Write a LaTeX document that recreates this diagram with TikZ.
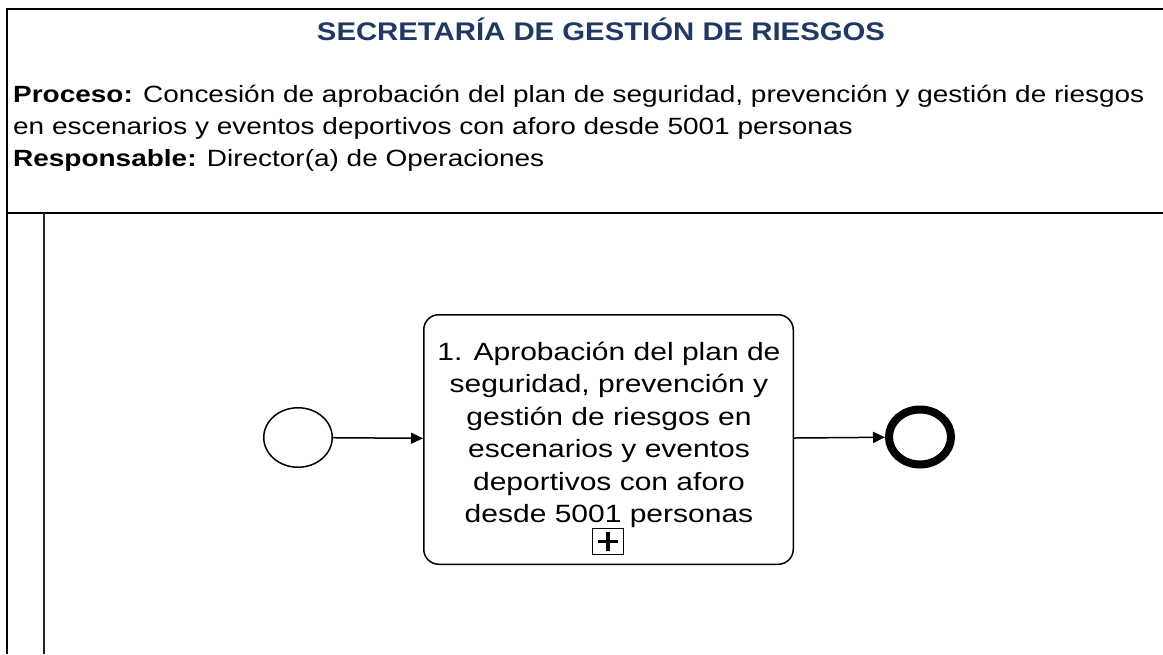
\documentclass[tikz,border=0pt]{standalone}
\usepackage{fontspec}
\setmainfont{Liberation Sans}
\newfontfamily\wfont[FakeStretch=1.2]{Liberation Sans}
\newfontfamily\hfont[FakeStretch=1.19]{Liberation Sans}
\newfontfamily\tfont[FakeStretch=1.15]{Liberation Sans}
\usetikzlibrary{shapes.geometric,arrows.meta}
\definecolor{navy}{RGB}{31,56,100}
\tikzset{
  poolline/.style={line width=2pt, black},
  lanesep/.style={line width=2.6pt, black},
  laneline/.style={line width=1.6pt, black!85},
  startev/.style={ellipse, draw, line width=1.5pt, minimum width=68.5pt, minimum height=59.5pt, inner sep=0pt},
  endev/.style={ellipse, draw, line width=8pt, minimum width=62pt, minimum height=55pt, inner sep=0pt},
  taskbox/.style={rectangle, draw, rounded corners=15pt, line width=1.5pt, minimum width=369.5pt, minimum height=249.5pt, inner sep=0pt},
  tasktext/.style={font=\wfont\fontsize{25}{32.5}\selectfont, align=center, inner sep=0pt},
  markerbox/.style={rectangle, draw, line width=1.5pt, minimum width=31pt, minimum height=26pt, inner sep=0pt},
  plusarm/.style={line width=3.6pt},
  flow/.style={line width=1.5pt, -{Triangle[length=12pt,width=11pt]}},
  titletext/.style={font=\tfont\bfseries\fontsize{25.5}{30}\selectfont, text=navy, inner sep=0pt},
  headtext/.style={font=\hfont\fontsize{23.5}{31.6}\selectfont, align=left, inner sep=0pt}
}
\begin{document}
\begin{tikzpicture}[x=1pt,y=-1pt]
\useasboundingbox (0,0) rectangle (1163,654);
% pool frame
\draw[poolline] (1163,9) -- (7,9) -- (7,654);
\draw[lanesep] (7,213) -- (1163,213);
\draw[laneline] (44,213) -- (44,654);
% header
\node[titletext, anchor=base] (title) at (601,40) {SECRETARÍA DE GESTIÓN DE RIESGOS};
\node[headtext, anchor=north west] (head) at (13,85.4) {\textbf{Proceso:} Concesión de aprobación del plan de seguridad, prevención y gestión de riesgos\\en escenarios y eventos deportivos con aforo desde 5001 personas\\\textbf{Responsable:} Director(a) de Operaciones};
% diagram
\node[startev] (start) at (298,437.5) {};
\node[taskbox] (task) at (608.5,439.5) {};
\node[tasktext, anchor=north] (tasklbl) at (609,341.7) {1. Aprobación del plan de\\seguridad, prevención y\\gestión de riesgos en\\escenarios y eventos\\deportivos con aforo\\desde 5001 personas};
\node[markerbox] (marker) at (608,541.5) {};
\draw[plusarm] (598,541.5) -- (618,541.5);
\draw[plusarm] (608,532) -- (608,551);
\node[endev] (end) at (920,437) {};
\draw[flow] (start) -- (task);
\draw[flow] (task) -- (end);
\end{tikzpicture}
\end{document}
